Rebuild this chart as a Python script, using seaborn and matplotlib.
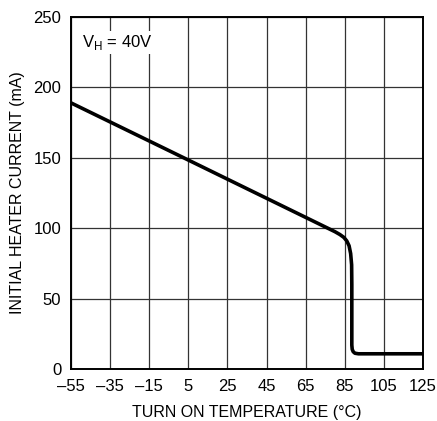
import matplotlib
matplotlib.use("Agg")
import matplotlib.pyplot as plt
import seaborn as sns
import pandas as pd
from matplotlib import font_manager

sns.set_style("white")
fams = [f.name for f in font_manager.fontManager.ttflist]
fam = "Liberation Sans Narrow" if "Liberation Sans Narrow" in fams else "Liberation Sans"
plt.rcParams['font.family'] = [fam, 'DejaVu Sans']
plt.rcParams['text.color'] = 'black'
plt.rcParams['axes.labelcolor'] = 'black'
plt.rcParams['xtick.color'] = 'black'
plt.rcParams['ytick.color'] = 'black'

temp = [-55, 5, 80, 82.5, 84.5, 86, 87.2, 88.0, 88.5, 88.6, 88.6, 88.8, 89.3, 90.2, 92, 125]
current = [189, 148.4, 97.5, 95.5, 93.5, 91, 87.5, 82, 74, 60, 17, 14, 12.3, 11.2, 10.8, 10.8]
xticks = [-55, -35, -15, 5, 25, 45, 65, 85, 105, 125]
yticks = [0, 50, 100, 150, 200, 250]

df = pd.DataFrame({"temp": temp, "current": current})

fig = plt.figure(figsize=(4.37, 4.21), dpi=100)
ax = fig.add_axes([71/437, 1 - 369/421, 352/437, 352/421])
sns.lineplot(data=df, x="temp", y="current", ax=ax, color="black", linewidth=2.6,
             sort=False, estimator=None, solid_capstyle="round", solid_joinstyle="round")
ax.set_xlim(-55, 125)
ax.set_ylim(0, 250)
ax.set_xticks(xticks)
ax.set_yticks(yticks)
ax.set_xticklabels([str(t).replace("-", "\u2013") for t in xticks], fontsize=12)
ax.set_yticklabels([str(t) for t in yticks], fontsize=12)
ax.tick_params(axis="x", length=0, pad=7)
ax.tick_params(axis="y", length=0, pad=7)
ax.grid(True, color="#333333", linewidth=0.9)
ax.set_axisbelow(True)
for s in ax.spines.values():
    s.set_color("black")
    s.set_linewidth(1.4)
ax.set_xlabel("TURN ON TEMPERATURE (\u00b0C)", fontsize=11.5, labelpad=8)
ax.set_ylabel("INITIAL HEATER CURRENT (mA)", fontsize=11.5, labelpad=6)
ax.text(0.03, 0.955, "V$_\\mathregular{H}$ = 40V", transform=ax.transAxes, fontsize=12,
        ha="left", va="top", bbox=dict(facecolor="white", edgecolor="none", pad=1.5))
fig.savefig("out.png", dpi=100)
